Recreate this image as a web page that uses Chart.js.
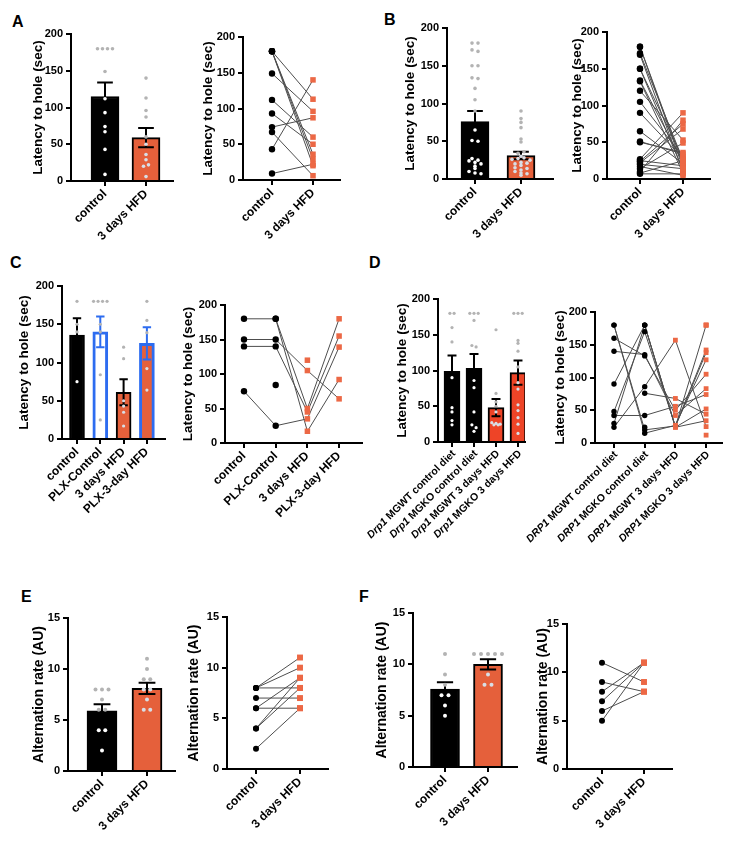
<!DOCTYPE html>
<html>
<head>
<meta charset="utf-8">
<script src="https://cdn.jsdelivr.net/npm/chart.js@4.4.1/dist/chart.umd.min.js"></script>
<style>
  body { margin: 0; width: 735px; height: 863px; position: relative; overflow: hidden; background: #fff; font-family: "Liberation Sans", Arial, sans-serif; }
  canvas { position: absolute; }
  .tag { position: absolute; font-weight: bold; font-size: 16px; color: #000; }
</style>
</head>
<body>
<div class="tag" style="left:12px;top:13px">A</div>
<div class="tag" style="left:384px;top:11px">B</div>
<div class="tag" style="left:10px;top:254px">C</div>
<div class="tag" style="left:369px;top:254px">D</div>
<div class="tag" style="left:21px;top:588px">E</div>
<div class="tag" style="left:359px;top:588px">F</div>
<script>
// ---- data ----
const twoCats = ['control', '3 days HFD'];
const latencyTitle = 'Latency to hole (sec)';
const alternationTitle = 'Alternation rate (AU)';

// A (paired: aControl[i] -> aHfd[i])
const aControl = [180, 180, 180, 180, 149, 112, 93, 74, 67, 43, 9];
const aHfd = [113, 36, 29, 20, 96, 60, 50, 87, 6, 140, 22];
const aMean = [115, 59];
const aSem = [19, 13];

// B
const bControl = [180, 180, 171, 169, 150, 150, 134, 133, 120, 105, 90, 65, 51, 50, 27, 25, 24, 22, 20, 17, 14, 10, 8, 7];
const bHfd = [20, 15, 26, 10, 27, 12, 22, 8, 53, 30, 28, 21, 34, 36, 90, 18, 75, 68, 14, 5, 49, 80, 25, 7];
const bMean = [76, 31];
const bSem = [14, 5];

// C
const cCats = ['control', 'PLX-Control', '3 days HFD', 'PLX-3-day HFD'];
const cDots = [
  [180, 150, 140, 75],
  [180, 180, 180, 180, 150, 140, 84, 25],
  [120, 105, 50, 43, 35, 17],
  [180, 155, 139, 92, 64]
];
const cMean = [136, 140, 61, 125];
const cSem = [22, 20, 17, 21];
const cSubjects = [
  [180, 180, 50, 180],
  [150, 150, 105, 64],
  [140, 140, 45, 155],
  [75, 25, 35, 139],
  [null, 180, 17, 92],
  [null, 84, null, null],
  [null, null, 120, null]
];

// D
const dBarGene = 'Drp1';
const dPairGene = 'DRP1';
const dGroups = ['MGWT control diet', 'MGKO control diet', 'MGWT 3 days HFD', 'MGKO 3 days HFD'];
const dDots = [
  [180, 180, 160, 140, 90, 48, 42, 30, 24],
  [180, 180, 180, 170, 135, 133, 86, 76, 42, 24, 20, 15],
  [157, 68, 56, 50, 42, 27, 26, 25, 24, 24],
  [180, 180, 180, 142, 138, 127, 105, 83, 74, 52, 44, 34, 25, 12]
];
const dMean = [99, 103, 48, 97];
const dSem = [22, 20, 12, 17];
const dSubjects = [
  [180, 20, 26, 142],
  [180, 15, 27, 127],
  [160, 133, 50, 105],
  [140, 135, 42, 83],
  [90, 180, 25, 180],
  [48, 170, 25, 138],
  [42, 42, 56, 74],
  [30, 180, 24, 52],
  [24, 86, 157, 25],
  [null, 76, 68, 44],
  [null, 180, 24, 34],
  [null, 24, null, 12],
  [null, null, null, 180],
  [null, null, null, 180]
];

// E
const eControl = [8, 8, 8, 7, 6, 6, 4, 4, 2];
const eHfd = [11, 8, 10, 7, 9, 6, 9, 8, 6];
const eMean = [5.9, 8.1];
const eSem = [0.65, 0.55];

// F
const fControl = [11, 9, 8, 7, 7, 6, 5];
const fHfd = [11, 11, 11, 11, 11, 9, 8, 8];
const fMean = [7.6, 10];
const fSem = [0.65, 0.5];
const fPairControl = [11, 9, 8, 7, 6, 5];
const fPairHfd = [9, 8, 11, 11, 8, 11];

// ---- styling ----
const FONT = '"Liberation Sans", Arial, sans-serif';
const BLACK = '#000000';
const ORANGE = '#e5603b';
const RED = '#ee4427';
const BLUE = '#2d6cf0';
const SQUARE = '#ec6845';
const DOT_OUT = '#b3b3b3';
const DOT_ON_BLACK = '#ffffff';
const DOT_ON_ORANGE = '#d8dee6';
const LINE = '#4d4d4d';

function place(geo) {
    const c = document.createElement('canvas');
    const left = geo.L - geo.yW, top = geo.T - 12;
    c.width = geo.R + 12 - left;
    c.height = geo.B + geo.xH - top;
    c.style.left = left + 'px';
    c.style.top = top + 'px';
    document.body.appendChild(c);
    return c;
}

// spread equal-ish values sideways like a column scatter
function swarm(values, center, step, bin) {
    const groups = {};
    values.forEach(v => {
        const k = Math.round(v / bin);
        (groups[k] = groups[k] || []).push(v);
    });
    const pts = [];
    Object.values(groups).forEach(g => {
        g.forEach((v, j) => pts.push({ x: center + (j - (g.length - 1) / 2) * step, y: v }));
    });
    return pts;
}

function makeScales(geo, cats, yMax, yStep, yTitle, titleSize, labelSize) {
    return {
        x: {
            type: 'linear',
            offset: false,
            min: (geo.L - geo.c0) / geo.u,
            max: (geo.R - geo.c0) / geo.u,
            afterBuildTicks: s => { s.ticks = cats.map((c, i) => ({ value: i })); },
            afterFit: s => { s.height = geo.xH; },
            grid: { offset: false, drawOnChartArea: false, tickLength: 5, color: BLACK, lineWidth: 2 },
            border: { color: BLACK, width: 2 },
            ticks: {
                display: labelSize > 0, autoSkip: false, minRotation: 45, maxRotation: 45, padding: 1,
                color: BLACK, font: { family: FONT, size: labelSize || 10, weight: 'bold' },
                callback: v => cats[v]
            }
        },
        y: {
            min: 0, max: yMax,
            afterFit: s => { s.width = geo.yW; },
            grid: { drawOnChartArea: false, tickLength: 5, color: BLACK, lineWidth: 2 },
            border: { color: BLACK, width: 2 },
            ticks: { stepSize: yStep, padding: 3, color: BLACK, font: { family: FONT, size: 11, weight: 'bold' } },
            title: {
                display: true, text: yTitle, color: BLACK,
                font: { family: FONT, size: titleSize, weight: 'bold' },
                padding: { top: geo.yW - geo.tOff - titleSize * 0.6, bottom: 0 }
            }
        }
    };
}

function baseOptions(scales) {
    return {
        responsive: false,
        animation: false,
        devicePixelRatio: 1,
        layout: { padding: { top: 12, right: 12, left: 0, bottom: 0 } },
        plugins: { legend: { display: false }, tooltip: { enabled: false } },
        scales: scales
    };
}

// x labels with an italic gene name in front
function geneLabels(gene, names, size) {
    return {
        id: 'geneLabels',
        afterDraw(chart) {
            const s = chart.scales.x, ctx = chart.ctx;
            names.forEach((n, i) => {
                const x = s.getPixelForValue(i);
                ctx.save();
                ctx.translate(x + 2, s.top + 10);
                ctx.rotate(-Math.PI / 4);
                ctx.textAlign = 'right';
                ctx.textBaseline = 'middle';
                ctx.fillStyle = BLACK;
                const rest = ' ' + n;
                ctx.font = 'bold ' + size + 'px ' + FONT;
                ctx.fillText(rest, 0, 0);
                const w = ctx.measureText(rest).width;
                ctx.font = 'italic bold ' + size + 'px ' + FONT;
                ctx.fillText(gene, -w, 0);
                ctx.restore();
            });
        }
    };
}

function barPanel(geo, cats, groups, means, sems, look, axis, extra) {
    const canvas = place(geo);
    const pts = [];
    groups.forEach((vals, g) => {
        swarm(vals, g, geo.gap / geo.u, axis.max / 45).forEach(p => pts.push({ x: p.x, y: p.y, g: g }));
    });
    const errorBars = {
        id: 'errorBars',
        afterDatasetDraw(chart, args) {
            if (args.meta.type !== 'bar') return;
            const ctx = chart.ctx, ys = chart.scales.y;
            const cap = geo.barW * 0.28;
            args.meta.data.forEach((bar, i) => {
                const top = ys.getPixelForValue(means[i] + sems[i]);
                const bot = ys.getPixelForValue(means[i] - sems[i]);
                ctx.save();
                ctx.strokeStyle = look.err[i];
                ctx.lineWidth = 2;
                ctx.beginPath();
                ctx.moveTo(bar.x, top); ctx.lineTo(bar.x, bot);
                ctx.moveTo(bar.x - cap, top); ctx.lineTo(bar.x + cap, top);
                ctx.moveTo(bar.x - cap, bot); ctx.lineTo(bar.x + cap, bot);
                ctx.stroke();
                ctx.restore();
            });
        }
    };
    new Chart(canvas, {
        type: 'scatter',
        data: {
            datasets: [{
                type: 'scatter', order: 1, data: pts,
                pointRadius: geo.dotR, pointBorderWidth: 0, pointHoverRadius: geo.dotR,
                pointBackgroundColor: c => (c.raw && c.raw.y > means[c.raw.g]) ? DOT_OUT : look.dot[c.raw ? c.raw.g : 0]
            }, {
                type: 'bar', order: 2,
                data: means.map((m, i) => ({ x: i, y: m })),
                backgroundColor: look.fill, borderColor: look.edge, borderWidth: look.bw,
                barThickness: geo.barW
            }]
        },
        options: baseOptions(makeScales(geo, cats, axis.max, axis.step, axis.title, axis.titleSize, axis.labelSize)),
        plugins: extra ? [errorBars, extra] : [errorBars]
    });
}

function pairPanel(geo, cats, subjects, kinds, axis, extra) {
    const canvas = place(geo);
    const lines = subjects.map(s => ({
        type: 'line', order: 3,
        data: s.map((v, i) => ({ x: i, y: v })),
        borderColor: LINE, borderWidth: 1, pointRadius: 0, spanGaps: false, fill: false
    }));
    const marks = cats.map((c, i) => ({
        type: 'scatter', order: 1,
        data: subjects.filter(s => s[i] !== null).map(s => ({ x: i, y: s[i] })),
        pointStyle: kinds[i] === 'sq' ? 'rect' : 'circle',
        pointRadius: kinds[i] === 'sq' ? geo.sqR : geo.ciR,
        pointHoverRadius: kinds[i] === 'sq' ? geo.sqR : geo.ciR,
        pointBackgroundColor: kinds[i] === 'sq' ? SQUARE : BLACK,
        pointBorderWidth: 0
    }));
    new Chart(canvas, {
        type: 'scatter',
        data: { datasets: marks.concat(lines) },
        options: baseOptions(makeScales(geo, cats, axis.max, axis.step, axis.title, axis.titleSize, axis.labelSize)),
        plugins: extra ? [extra] : []
    });
}

const latency = { max: 200, step: 50, title: latencyTitle, titleSize: 13.5, labelSize: 12 };
const alternation = { max: 15, step: 5, title: alternationTitle, titleSize: 14, labelSize: 12 };
const twoLook = {
    fill: [BLACK, ORANGE], edge: [BLACK, BLACK], err: [BLACK, BLACK],
    dot: [DOT_ON_BLACK, DOT_ON_ORANGE], bw: 2
};
const pairOf = (a, b) => a.map((v, i) => [v, b[i]]);

// A
barPanel({ L: 71, R: 173, T: 34, B: 181, c0: 105, u: 41, yW: 64, tOff: 33, xH: 75, barW: 28, dotR: 1.8, gap: 5 },
    twoCats, [aControl, aHfd], aMean, aSem, twoLook, latency);
pairPanel({ L: 243, R: 340, T: 37, B: 180, c0: 272, u: 41, yW: 64, tOff: 35, xH: 75, ciR: 3.2, sqR: 3.9 },
    twoCats, pairOf(aControl, aHfd), ['ci', 'sq'], latency);

// B
barPanel({ L: 447, R: 553, T: 28, B: 179, c0: 475, u: 46, yW: 64, tOff: 37, xH: 75, barW: 28, dotR: 1.8, gap: 6 },
    twoCats, [bControl, bHfd], bMean, bSem, twoLook, latency);
pairPanel({ L: 607, R: 710, T: 32, B: 179, c0: 640, u: 43, yW: 64, tOff: 30, xH: 75, ciR: 3.2, sqR: 3.9 },
    twoCats, pairOf(bControl, bHfd), ['ci', 'sq'], latency);

// C
barPanel({ L: 62, R: 165, T: 286, B: 439, c0: 77, u: 23.3, yW: 60, tOff: 38, xH: 90, barW: 15, dotR: 1.6, gap: 4.5 },
    cCats, cDots, cMean, cSem, {
        fill: [BLACK, '#ffffff', ORANGE, ORANGE], edge: [BLACK, BLUE, BLACK, BLUE], err: [BLACK, BLUE, BLACK, BLUE],
        dot: [DOT_ON_BLACK, DOT_OUT, DOT_ON_ORANGE, DOT_ON_ORANGE], bw: [2, 3, 2, 3]
    }, latency);
pairPanel({ L: 225, R: 362, T: 305, B: 443, c0: 244, u: 31.7, yW: 64, tOff: 37, xH: 90, ciR: 3.2, sqR: 3.9 },
    cCats, cSubjects, ['ci', 'ci', 'sq', 'sq'], latency);

// D
const dLatency = Object.assign({}, latency, { labelSize: 0 });
barPanel({ L: 438, R: 525, T: 299, B: 442, c0: 452, u: 22, yW: 90, tOff: 36, xH: 120, barW: 16, dotR: 1.6, gap: 4.2 },
    dGroups, dDots, dMean, dSem, {
        fill: [BLACK, BLACK, RED, RED], edge: [BLACK, BLACK, BLACK, BLACK], err: [BLACK, BLACK, BLACK, BLACK],
        dot: [DOT_ON_BLACK, DOT_ON_BLACK, DOT_ON_ORANGE, DOT_ON_ORANGE], bw: 2
    }, dLatency, geneLabels(dBarGene, dGroups, 10.5));
pairPanel({ L: 595, R: 722, T: 312, B: 443, c0: 614, u: 30.7, yW: 90, tOff: 35, xH: 120, ciR: 2.7, sqR: 3.4 },
    dGroups, dSubjects, ['ci', 'ci', 'sq', 'sq'], dLatency, geneLabels(dPairGene, dGroups, 10.5));

// E
barPanel({ L: 68, R: 175, T: 618, B: 771, c0: 102, u: 45, yW: 64, tOff: 29, xH: 80, barW: 30, dotR: 2, gap: 6.5 },
    twoCats, [eControl, eHfd], eMean, eSem, twoLook, alternation);
pairPanel({ L: 227, R: 328, T: 617, B: 769, c0: 256, u: 44, yW: 64, tOff: 33, xH: 80, ciR: 3, sqR: 4.2 },
    twoCats, pairOf(eControl, eHfd), ['ci', 'sq'], alternation);

// F
barPanel({ L: 413, R: 517, T: 613, B: 767, c0: 445, u: 43, yW: 64, tOff: 31, xH: 80, barW: 29, dotR: 2, gap: 7 },
    twoCats, [fControl, fHfd], fMean, fSem, twoLook, alternation);
pairPanel({ L: 567, R: 672, T: 624, B: 769, c0: 602, u: 42, yW: 64, tOff: 24, xH: 80, ciR: 3, sqR: 4.2 },
    twoCats, pairOf(fPairControl, fPairHfd), ['ci', 'sq'], alternation);
</script>
</body>
</html>
